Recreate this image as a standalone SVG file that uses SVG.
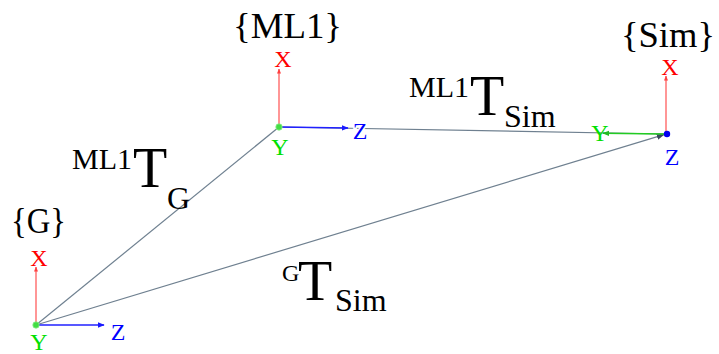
<svg xmlns="http://www.w3.org/2000/svg" width="719" height="354" viewBox="0 0 719 354">
<style>
text{font-family:"Liberation Serif","DejaVu Serif",serif;fill:#000}
.frame{font-size:36px}
.ax{font-size:24px;text-anchor:middle}
.xl{fill:#ff0000}.yl{fill:#00e000}.zl{fill:#0000ff}
.link{stroke:#6f8090;stroke-width:1.2;fill:none}
.xa{stroke:#ff5050;stroke-width:1.2}
.ya{stroke:#22cc22;stroke-width:1.6}
.za{stroke:#2020ff;stroke-width:1.6}
.sup{font-size:30px}.big{font-size:56px}.sub{font-size:32px}
</style>
<defs>
<marker id="ahR" viewBox="0 0 10 10" refX="9" refY="5" markerWidth="5" markerHeight="5" orient="auto" markerUnits="userSpaceOnUse"><path d="M0,1 L10,5 L0,9 z" fill="#ff4040"/></marker>
<marker id="ahB" viewBox="0 0 10 10" refX="9" refY="5" markerWidth="7" markerHeight="7" orient="auto" markerUnits="userSpaceOnUse"><path d="M0,1 L10,5 L0,9 z" fill="#1a1aff"/></marker>
<marker id="ahG" viewBox="0 0 10 10" refX="9" refY="5" markerWidth="7" markerHeight="7" orient="auto" markerUnits="userSpaceOnUse"><path d="M0,1 L10,5 L0,9 z" fill="#22bb22"/></marker>
<marker id="ahL" viewBox="0 0 10 10" refX="9" refY="5" markerWidth="8" markerHeight="8" orient="auto" markerUnits="userSpaceOnUse"><path d="M0,1 L10,5 L0,9 z" fill="#3a4a5a"/></marker>
</defs>
<g id="connectors">
<line class="link" x1="36" y1="325" x2="279" y2="127"/>
<line class="link" x1="36" y1="325" x2="664" y2="134.6" marker-end="url(#ahL)"/>
<line class="link" x1="279" y1="127" x2="664" y2="134"/>
</g>
<g id="label-ML1TG">
<text class="sup" x="72" y="169">ML1</text>
<text class="big" x="133" y="187">T</text>
<text class="sub" x="167" y="209">G</text>
</g>
<g id="label-GTSim">
<text x="282" y="281" style="font-size:24px">G</text>
<text class="big" x="298" y="300">T</text>
<text class="sub" x="335" y="311">Sim</text>
</g>
<g id="label-ML1TSim">
<text class="sup" x="409" y="97">ML1</text>
<text class="big" x="470" y="115">T</text>
<text class="sub" x="504" y="127">Sim</text>
</g>
<g id="frame-G">
<text class="frame" x="11" y="233" textLength="55" lengthAdjust="spacingAndGlyphs">{G}</text>
<line class="xa" x1="36" y1="325" x2="36" y2="267" marker-end="url(#ahR)"/>
<line class="za" x1="36" y1="325" x2="104" y2="325" marker-end="url(#ahB)"/>
<circle cx="36" cy="325" r="3.2" fill="#44dd44" stroke="#88ee88" stroke-width="0.8"/>
<text class="ax xl" x="39" y="266">X</text>
<text class="ax yl" x="39" y="350">Y</text>
<text class="ax zl" x="118" y="340">Z</text>
</g>
<g id="frame-ML1">
<text class="frame" x="233" y="38" textLength="109" lengthAdjust="spacingAndGlyphs">{ML1}</text>
<line class="xa" x1="279" y1="127" x2="279" y2="69" marker-end="url(#ahR)"/>
<line class="za" x1="279" y1="127" x2="348" y2="128" marker-end="url(#ahB)"/>
<circle cx="279" cy="127" r="3.2" fill="#44dd44" stroke="#88ee88" stroke-width="0.8"/>
<text class="ax xl" x="283" y="67">X</text>
<text class="ax yl" x="280" y="155">Y</text>
<text class="ax zl" x="360" y="139" stroke="#fff" stroke-width="3" paint-order="stroke">Z</text>
</g>
<g id="frame-Sim">
<text class="frame" x="621" y="47" textLength="94" lengthAdjust="spacingAndGlyphs">{Sim}</text>
<line class="xa" x1="666" y1="134" x2="666" y2="76" marker-end="url(#ahR)"/>
<line class="ya" x1="666" y1="134" x2="603" y2="133.3" marker-end="url(#ahG)"/>
<circle cx="667" cy="134" r="3.2" fill="#0000ee"/>
<text class="ax xl" x="670" y="75">X</text>
<text class="ax yl" x="600" y="141">Y</text>
<text class="ax zl" x="672" y="165">Z</text>
</g>
</svg>
